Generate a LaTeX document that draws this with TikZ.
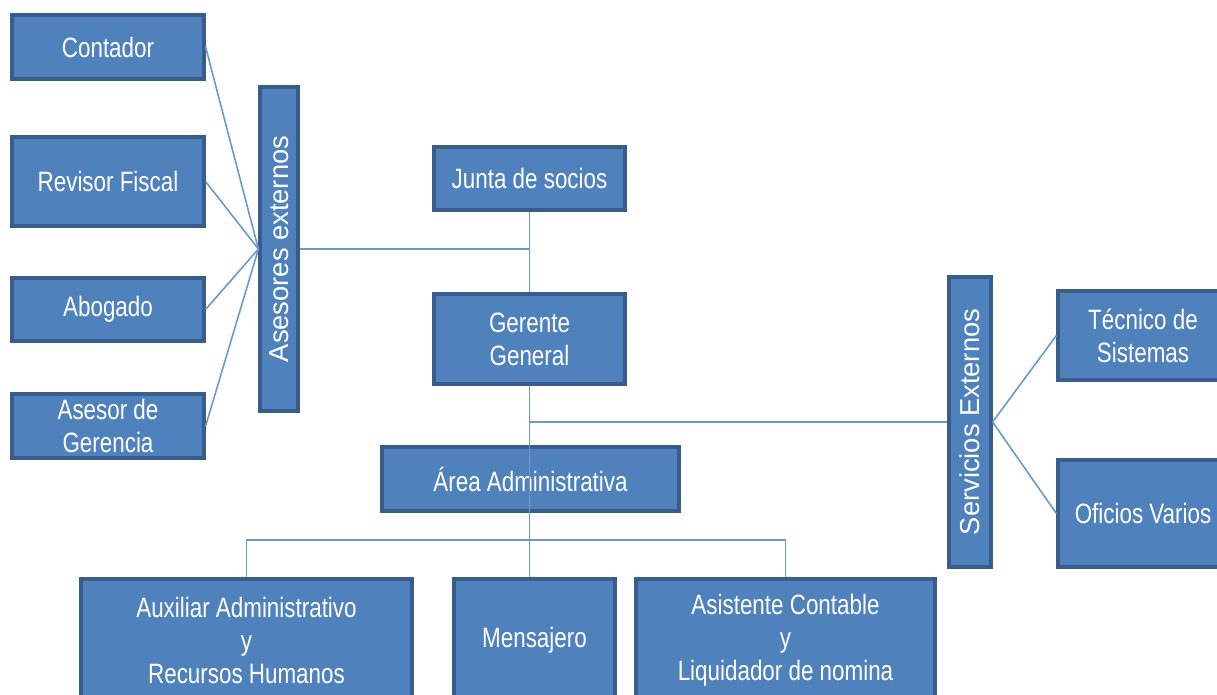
\documentclass[tikz,border=0pt]{standalone}
\usepackage{fontspec}
\setmainfont{Liberation Sans}[FakeStretch=0.8]
\newfontfamily\barfont{Liberation Sans}
\usepackage{tikz}
\usetikzlibrary{positioning}
\definecolor{boxfill}{HTML}{4F81BD}
\definecolor{boxedge}{HTML}{385D8A}
\definecolor{linkblue}{HTML}{6A98D0}
\tikzset{
  orgbox/.style={draw=boxedge, fill=boxfill, line width=2.4pt, text=white,
    align=center, inner sep=0pt, font=\fontsize{21}{24.75}\selectfont},
  sidebar/.style={orgbox, rotate=90, font=\barfont\fontsize{20.5}{24}\selectfont},
  link/.style={draw=linkblue, line width=1.2pt}
}
\begin{document}
\begin{tikzpicture}[x=0.75pt, y=-0.75pt]
\useasboundingbox (0,0) rectangle (1217,695);
\clip (0,0) rectangle (1217,695);
% asesores externos
\node[orgbox, minimum width=144pt, minimum height=48pt] (cont) at (108,47) {Contador};
\node[orgbox, minimum width=144pt, minimum height=66.75pt] (rev) at (108,181.5) {Revisor Fiscal};
\node[orgbox, minimum width=144pt, minimum height=47.25pt] (abog) at (108,309.5) {Abogado};
\node[orgbox, minimum width=144pt, minimum height=48pt] (asger) at (108,426) {Asesor de\\Gerencia};
\node[sidebar, minimum width=243pt, minimum height=28.5pt] (ase) at (279,249) {Asesores externos};
% direccion
\node[orgbox, minimum width=143.25pt, minimum height=47.25pt] (junta) at (529.5,178.5) {Junta de socios};
\node[orgbox, minimum width=143.25pt, minimum height=67.5pt] (ger) at (529.5,339) {Gerente\\General};
\node[orgbox, minimum width=222.75pt, minimum height=48pt] (area) at (530.5,479) {Área Administrativa};
% servicios externos
\node[sidebar, minimum width=217.5pt, minimum height=31.5pt] (serv) at (970,422) {Servicios Externos};
\node[orgbox, minimum width=127.5pt, minimum height=66.75pt] (tec) at (1143,335.5) {Técnico de\\Sistemas};
\node[orgbox, minimum width=127.5pt, minimum height=80.25pt] (ofi) at (1143,513.5) {Oficios Varios};
% area administrativa
\node[orgbox, minimum width=248.25pt, minimum height=91.5pt] (aux) at (246.5,640) {Auxiliar Administrativo\\y\\Recursos Humanos};
\node[orgbox, minimum width=120.75pt, minimum height=91.5pt] (mens) at (534.5,640) {Mensajero};
\node[orgbox, minimum width=224.25pt, minimum height=91.5pt] (asis) at (785.5,640) {Asistente Contable\\y\\Liquidador de nomina};
% conexiones
\foreach \n in {cont,rev,abog,asger}
  \draw[link] (\n.east) -- (ase.north);
\draw[link] (junta.south) -- (ger.north);
\draw[link] (ase.south) -- (ase.south -| junta.south);
\draw[link] (ger.south) |- (serv.north);
\draw[link] (serv.south) -- (tec.west);
\draw[link] (serv.south) -- (ofi.west);
\coordinate (trunk) at (ger.south |- mens.north);
\coordinate (branch) at (527,540);
\draw[link] (ger.south) -- (trunk);
\draw[link] (aux.north) |- (branch) -| (asis.north);
\end{tikzpicture}
\end{document}
